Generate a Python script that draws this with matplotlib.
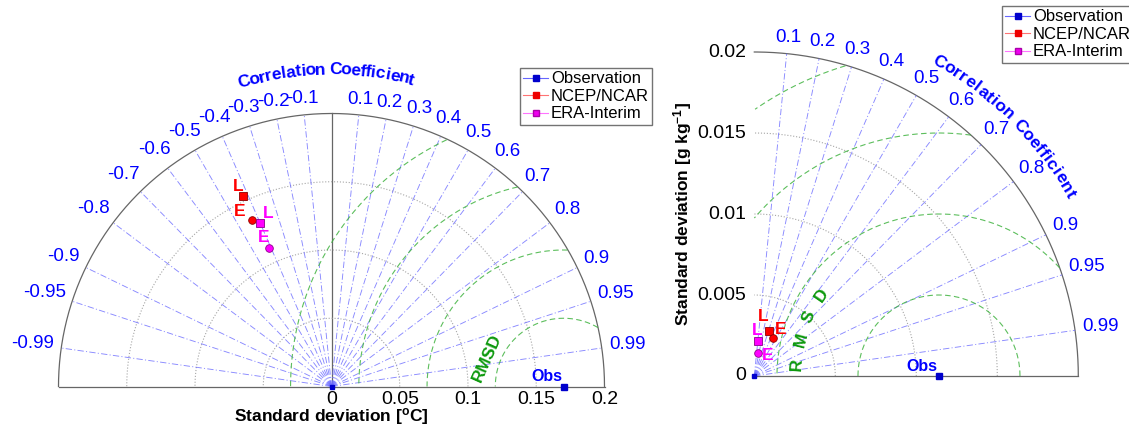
import matplotlib
matplotlib.use("Agg")
import matplotlib.pyplot as plt
import numpy as np
from matplotlib.lines import Line2D

plt.rcParams['font.family'] = ['Liberation Sans', 'DejaVu Sans']

# --- air temperature panel ---
t_std_ticks = [0, 0.05, 0.1, 0.15, 0.2]
t_rmsd_levels = [0.05, 0.1, 0.15, 0.2]
t_corr_ticks = [-0.99, -0.95, -0.9, -0.8, -0.7, -0.6, -0.5, -0.4, -0.3, -0.2, -0.1,
                0.1, 0.2, 0.3, 0.4, 0.5, 0.6, 0.7, 0.8, 0.9, 0.95, 0.99]
t_obs_std = 0.17
t_model_std = [0.154, 0.135, 0.131, 0.111]
t_model_corr = [-0.42, -0.43, -0.40, -0.41]

# --- specific humidity panel ---
q_std_ticks = [0, 0.005, 0.01, 0.015, 0.02]
q_rmsd_levels = [0.005, 0.01, 0.015, 0.02]
q_corr_ticks = [0.1, 0.2, 0.3, 0.4, 0.5, 0.6, 0.7, 0.8, 0.9, 0.95, 0.99]
q_obs_std = 0.0114
q_model_std = [0.00294, 0.0026, 0.0022, 0.00142]
q_model_corr = [0.30, 0.44, 0.09, 0.145]

# order of the model points: NCEP L, NCEP E, ERA L, ERA E
model_tags = ['L', 'E', 'L', 'E']
model_source = ['NCEP/NCAR', 'NCEP/NCAR', 'ERA-Interim', 'ERA-Interim']

src_color = {'NCEP/NCAR': '#ff0000', 'ERA-Interim': '#ff00ff'}
src_edge = {'NCEP/NCAR': '#8b0000', 'ERA-Interim': '#8b008b'}
tag_marker = {'L': 's', 'E': 'o'}

FIG_W, FIG_H = 1129, 430
BLUE = '#0000ff'
LINE_BLUE = (0.42, 0.42, 1.0)
GREEN = (0.25, 0.7, 0.25)
DARK_GREEN = (0.05, 0.6, 0.05)


def make_axes(fig, x0, x1, origin, scale):
    """Axes spanning pixels x0..x1 with data origin at pixel `origin` (from top)."""
    ax = fig.add_axes([x0 / FIG_W, 0, (x1 - x0) / FIG_W, 1])
    ox, oy = origin
    oyb = FIG_H - oy
    ax.set_xlim((x0 - ox) / scale, (x1 - ox) / scale)
    ax.set_ylim(-oyb / scale, (FIG_H - oyb) / scale)
    ax.axis('off')
    return ax


def text_width(s, fs):
    w = {'.': 0.278, '-': 0.333}
    return fs * sum(w.get(c, 0.556) for c in s)


def arc_text(ax, text, radius, mid_deg, span_deg, **kw):
    narrow = {'i': 0.55, 'l': 0.55, 't': 0.55, 'f': 0.55, ' ': 0.55, 'r': 0.7, 'C': 1.2}
    weights = [narrow.get(c, 1.0) for c in text]
    step = span_deg / sum(weights)
    th = mid_deg + span_deg / 2
    for c, w in zip(text, weights):
        a = th - step * w / 2
        ax.text(radius * np.cos(np.radians(a)), radius * np.sin(np.radians(a)), c,
                rotation=a - 90, ha='center', va='center', rotation_mode='anchor', **kw)
        th -= step * w


def taylor_frame(ax, rmax, full, std_ticks, corr_ticks, obs_std, rmsd_levels):
    th_max = np.pi if full else np.pi / 2
    th = np.linspace(0, th_max, 500)
    ax.plot(rmax * np.cos(th), rmax * np.sin(th), color='0.4', lw=0.9)
    ax.plot([-rmax if full else 0, rmax], [0, 0], color='0.4', lw=0.9)
    if full:
        ax.plot([0, 0], [0, rmax], color='0.4', lw=0.9)
    for r in std_ticks[1:-1]:
        ax.plot(r * np.cos(th), r * np.sin(th), ':', color='0.65', lw=0.8)
    for c in corr_ticks:
        a = np.arccos(c)
        ax.plot([0, rmax * np.cos(a)], [0, rmax * np.sin(a)], color=LINE_BLUE,
                lw=0.65, alpha=0.8, dashes=(7, 2.5, 1.2, 2.5))
    # centred RMS difference circles, kept inside the outer arc
    ph = np.linspace(0, np.pi, 800)
    for r in rmsd_levels:
        x = obs_std + r * np.cos(ph)
        y = r * np.sin(ph)
        keep = (x ** 2 + y ** 2 <= rmax ** 2) & (x >= (-rmax if full else 0))
        ax.plot(np.where(keep, x, np.nan), np.where(keep, y, np.nan),
                color=GREEN, lw=0.8, dashes=(5, 3), alpha=0.85)
    fs = 13.5
    for c in corr_ticks:
        a = np.arccos(c)
        lab = ('%g' % c)
        w = text_width(lab, fs)
        half = abs(np.cos(a)) * w / 2 + abs(np.sin(a)) * fs * 0.45
        off = 4.5 + half
        ax.annotate(lab, (rmax * np.cos(a), rmax * np.sin(a)),
                    xytext=(off * np.cos(a), off * np.sin(a)), textcoords='offset points',
                    ha='center', va='center', color=BLUE, fontsize=fs)


def plot_points(ax, stds, corrs, offsets):
    for s, c, tag, src, (dx, dy) in zip(stds, corrs, model_tags, model_source, offsets):
        x, y = s * c, s * np.sqrt(1 - c ** 2)
        ax.plot(x, y, marker=tag_marker[tag], ms=5.5, color=src_color[src],
                mec=src_edge[src], mew=0.6, zorder=5)
        ax.annotate(tag, (x, y), xytext=(dx, dy), textcoords='offset points',
                    ha='center', va='center', color=src_color[src],
                    fontsize=12.5, fontweight='bold', zorder=6)


def plot_obs(ax, obs):
    ax.plot(0, 0, 's', ms=3.5, color='#0000cc', zorder=5, clip_on=False)
    ax.plot(obs, 0, 's', ms=5, color='#0000cc', zorder=5, clip_on=False)
    ax.annotate('Obs', (obs, 0), xytext=(-1, 1.5), textcoords='offset points',
                ha='right', va='bottom', color=BLUE, fontsize=11.5, fontweight='bold')


def add_legend(fig, x, y):
    handles = [
        Line2D([], [], color=(0.4, 0.4, 1), lw=0.8, marker='s', ms=4,
               mfc='#0000cc', mec='#0000cc'),
        Line2D([], [], color=(1, 0.45, 0.45), lw=0.8, marker='s', ms=4,
               mfc='#ee0000', mec='#ee0000'),
        Line2D([], [], color=(1, 0.45, 1), lw=0.8, marker='s', ms=4,
               mfc='#ee00ee', mec='#aa00aa'),
    ]
    fig.legend(handles, ['Observation', 'NCEP/NCAR', 'ERA-Interim'],
               loc='upper left', bbox_to_anchor=(x / FIG_W, 1 - y / FIG_H),
               fontsize=12, frameon=True, fancybox=False, edgecolor='0.45',
               framealpha=1, borderpad=0.2, handlelength=1.5, handletextpad=0.15,
               labelspacing=0.15, borderaxespad=0)


fig = plt.figure(figsize=(FIG_W / 100, FIG_H / 100), dpi=100)

# left: temperature, full semicircle
axt = make_axes(fig, 0, 660, (331.5, 386.5), 273 / 0.2)
taylor_frame(axt, 0.2, True, t_std_ticks, t_corr_ticks, t_obs_std, t_rmsd_levels)
for s in t_std_ticks:
    axt.annotate('%g' % s, (s, 0), xytext=(0, -3), textcoords='offset points',
                 ha='center', va='top', fontsize=14)
axt.annotate('Standard deviation [$\\mathregular{^o}$C]', (0, 0), xytext=(0, -21.5),
             textcoords='offset points', ha='center', va='center', fontsize=12.5,
             fontweight='bold')
arc_text(axt, 'Correlation Coefficient', 0.232, 91, 32, color=BLUE, fontsize=12.5,
         fontweight='bold')
axt.text(0.114, 0.021, 'RMSD', rotation=66, ha='center', va='center', color=DARK_GREEN,
         fontsize=12.5, fontweight='bold')
plot_obs(axt, t_obs_std)
plot_points(axt, t_model_std, t_model_corr,
            [(-3.6, 7), (-9, 6.2), (5.8, 6.5), (-4, 7.5)])
add_legend(fig, 520, 68)

# right: humidity, quarter circle
axq = make_axes(fig, 660, 1129, (754.3, 376), 324 / 0.02)
taylor_frame(axq, 0.02, False, q_std_ticks, q_corr_ticks, q_obs_std, q_rmsd_levels)
for s in q_std_ticks:
    axq.annotate('%g' % s, (0, s), xytext=(-6, 0), textcoords='offset points',
                 ha='right', va='center', fontsize=14)
axq.annotate('Standard deviation [g kg$\\mathregular{^{-1}}$]', (0, 0.01), xytext=(-52, 0),
             textcoords='offset points', ha='center', va='center', rotation=90,
             fontsize=12.5, fontweight='bold')
arc_text(axq, 'Correlation Coefficient', 0.0225, 45, 31, color=BLUE, fontsize=12.5,
         fontweight='bold')
for i, ch in enumerate('RMSD'):
    a = np.radians(175.5 - 10 * i)
    r = 0.0088
    axq.text(q_obs_std + r * np.cos(a), r * np.sin(a), ch, rotation=np.degrees(a) - 90,
             ha='center', va='center', color=DARK_GREEN, fontsize=12.5, fontweight='bold')
plot_obs(axq, q_obs_std)
plot_points(axq, q_model_std, q_model_corr,
            [(-3.6, 10), (5.5, 6), (0, 7.5), (7, -1.7)])
add_legend(fig, 1002, 6)

fig.savefig('out.png', dpi=100)
